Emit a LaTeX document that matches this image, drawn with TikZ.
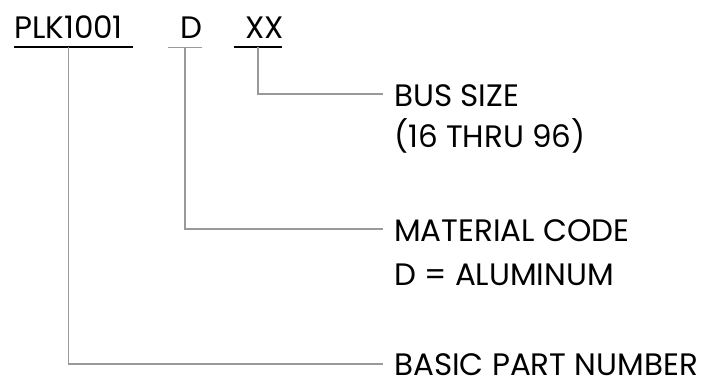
\documentclass[tikz,border=0pt]{standalone}
\usepackage{fontspec}
\setmainfont{Poppins}
\usetikzlibrary{positioning}
\tikzset{
  lbl/.style={inner sep=0pt, anchor=base west, font=\fontsize{31}{36}\selectfont},
  lead/.style={draw=black!40, line width=1.4pt},
  uline/.style={line width=2pt},
}
\begin{document}
\begin{tikzpicture}[x=1pt,y=1pt]
  \useasboundingbox (0,0) rectangle (702,382);
  % part number
  \node[lbl] (plk) at (14,343) {PLK1001};
  \node[lbl] (matl) at (180,343) {D};
  \node[lbl] (size) at (245,343) {XX};
  \draw[uline] (14,334.5) -- coordinate[pos=.46] (plku) (133,334.5);
  \draw[uline, draw=black!40, line width=1.4pt] (168,334.5) -- coordinate (matlu) (202,334.5);
  \draw[uline] (234,334.5) -- coordinate (sizeu) (282,334.5);
  % descriptions
  \node[lbl] (bus) at (394,275) {BUS SIZE};
  \node[lbl] (busr) at (394,234) {(16 THRU 96)};
  \node[lbl] (mcode) at (394,140) {MATERIAL CODE};
  \node[lbl] (alu) at (394,96) {D = ALUMINUM};
  \node[lbl] (basic) at (394,6) {BASIC PART NUMBER};
  % leaders
  \draw[lead] (sizeu) |- ([xshift=-11pt,yshift=2pt]bus.west);
  \draw[lead] (matlu) |- ([xshift=-11pt,yshift=2pt]mcode.west);
  \draw[lead] (plku) |- ([xshift=-11pt,yshift=1pt]basic.west);
\end{tikzpicture}
\end{document}
